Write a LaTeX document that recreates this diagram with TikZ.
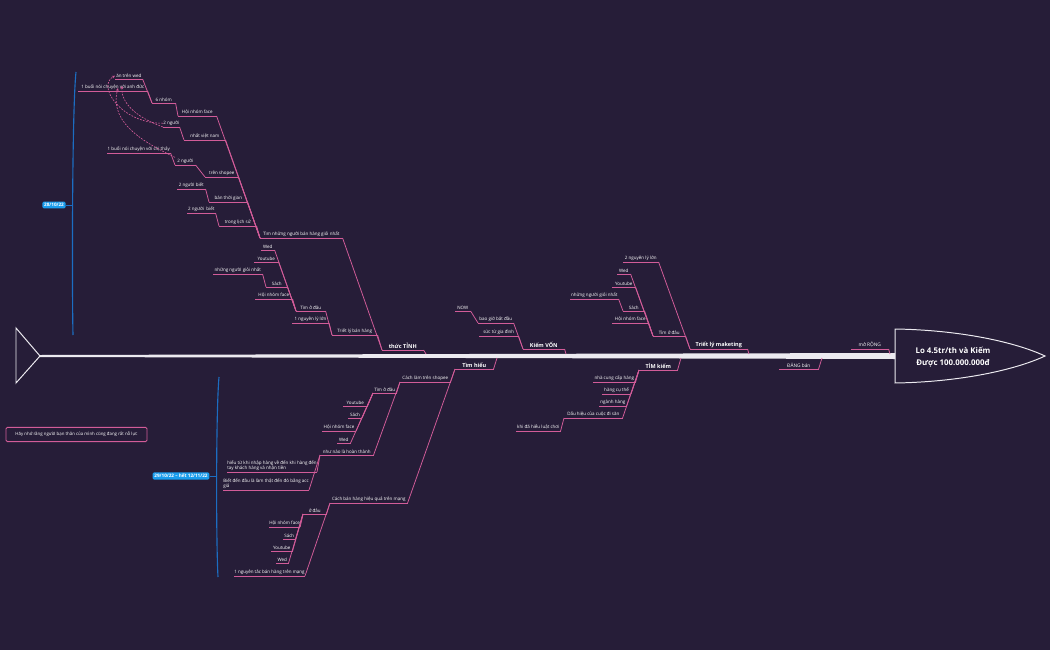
\documentclass[tikz,border=0pt]{standalone}
\usepackage{fontspec}
\setmainfont{Open Sans}
\usetikzlibrary{arrows.meta}
\definecolor{bgc}{HTML}{261D38}
\definecolor{pinkl}{HTML}{D25C99}
\definecolor{bluel}{HTML}{1A9CEC}
\definecolor{bluedk}{HTML}{1C6DC2}
\definecolor{bone}{HTML}{ECEAF0}
\newcommand{\pxl}{0.025cm}
\tikzset{
  uline/.style={draw=pinkl, line width=0.55pt},
  link/.style={draw=pinkl, line width=0.55pt},
  tp/.style={anchor=south west, inner xsep=0pt, inner ysep=0.9pt, text=white,
    font=\fontsize{3.2}{3.8}\selectfont,
    append after command={(\tikzlastnode.south west) edge[uline] (\tikzlastnode.south east)}},
  mtp/.style={tp, font=\fontsize{3.9}{4.5}\selectfont\bfseries},
  rel/.style={draw=pinkl, dash pattern=on 1.3pt off 0.9pt, line width=0.45pt, -{Stealth[length=2.2pt,width=2pt]}},
  datebox/.style={fill=bluel, rounded corners=1pt, text=white, inner xsep=1.3pt, inner ysep=1.2pt, font=\fontsize{3.3}{3.8}\selectfont\bfseries}
}
\begin{document}
\begin{tikzpicture}[x=0.025cm, y=-0.025cm]
\fill[bgc] (0,0) rectangle (1050,650);
\useasboundingbox (0,0) rectangle (1050,650);

\fill[bone] (40,355) -- (895,353) -- (895,359) -- (40,357) -- cycle;
\draw[bone, line width=0.7pt] (16,328) -- (40,356) -- (16,383) -- cycle;
\draw[bone, line width=0.7pt] (895,329) .. controls (960,330) and (1015,342) .. (1045,356)
  .. controls (1015,370) and (960,382) .. (895,383) -- cycle;
\node[text=white, align=center, font=\fontsize{5.6}{8}\selectfont\bfseries] (goal) at (953,357) {Lo 4.5tr/th và Kiếm\\Được 100.000.000đ};

\coordinate (sp1) at (426,354);
\coordinate (sp2) at (566,354);
\coordinate (sp3) at (749,354);
\coordinate (sp4) at (890,354);
\coordinate (sp5) at (497,358);
\coordinate (sp6) at (681,358);
\coordinate (sp7) at (822,358);

\node[tp, minimum width=27*\pxl] (wedA) at (115,79) {ăn trên wed};
\node[tp, minimum width=69*\pxl] (ducA) at (78,91) {1 buổi nói chuyện với anh đức};
\node[tp, minimum width=23*\pxl] (nhom6) at (152,103) {6 nhóm};
\node[tp, minimum width=38*\pxl] (hnfA) at (178,116) {Hội nhóm face};
\node[tp, minimum width=16*\pxl] (ngA) at (163,127) {2 người};
\node[tp, minimum width=41*\pxl] (vnA) at (184,140) {nhất việt nam};
\node[tp, minimum width=63*\pxl] (thayA) at (107,153) {1 buổi nói chuyện với chị thảy};
\node[tp, minimum width=20*\pxl] (ngB) at (175,165) {2 người};
\node[tp, minimum width=33*\pxl] (shA) at (205,177) {trên shopee};
\node[tp, minimum width=28*\pxl] (bietA) at (177,189) {2 người biết};
\node[tp, minimum width=38*\pxl] (btgA) at (209,202) {bán thời gian};
\node[tp, minimum width=28*\pxl] (bietB) at (187,213) {2 người\ \ biết};
\node[tp, minimum width=37*\pxl] (lsA) at (219,226) {trong lịch sử};
\node[tp, minimum width=82*\pxl] (gioi) at (260,238) {Tìm những người bán hàng giỏi nhất};
\node[tp, minimum width=13*\pxl] (wedB) at (261,250) {Wed};
\node[tp, minimum width=24*\pxl] (ytB) at (254,262) {Youtube};
\node[tp, minimum width=49*\pxl] (nngB) at (213,274) {những người giỏi nhất};
\node[tp, minimum width=21*\pxl] (sachB) at (266,287) {Sách};
\node[tp, minimum width=37*\pxl] (hnfB) at (255,299) {Hội nhóm face};
\node[tp, minimum width=29*\pxl] (tdB) at (296,311) {Tìm ở đâu};
\node[tp, minimum width=36.5*\pxl] (nllB) at (292,323) {1 nguyên lý lớn};
\node[tp, minimum width=45*\pxl] (tlbh) at (332,335) {Triết lý bán hàng};
\node[mtp, minimum width=41*\pxl] (thuc) at (382,350) {thức TỈNH};

\node[tp, minimum width=15*\pxl] (now) at (455,311) {NOW};
\node[tp, minimum width=35*\pxl] (bgbd) at (478,323) {bao giờ bắt đầu};
\node[tp, minimum width=39*\pxl] (sgd) at (479,336) {sức từ gia đình};
\node[mtp, minimum width=41*\pxl] (kv) at (523,349) {Kiếm VỐN};

\node[tp, minimum width=35*\pxl] (nll2) at (623,262) {2 nguyên lý lớn};
\node[tp, minimum width=13*\pxl] (wedC) at (617,274) {Wed};
\node[tp, minimum width=23*\pxl] (ytC) at (612,287) {Youtube};
\node[tp, minimum width=48*\pxl] (nngC) at (570,299) {những người giỏi nhất};
\node[tp, minimum width=21*\pxl] (sachC) at (623,311) {Sách};
\node[tp, minimum width=36*\pxl] (hnfC) at (612,323) {Hội nhóm face};
\node[tp, minimum width=32*\pxl] (tdC) at (653,336) {Tìm ở đâu};
\node[mtp, minimum width=57*\pxl] (tlm) at (690,349) {Triết lý maketing};
\node[tp, minimum width=37*\pxl, font=\fontsize{3.4}{4}\selectfont] (mr) at (851,349) {mở RỘNG};

\node[mtp, minimum width=38*\pxl] (th) at (455,369) {Tìm hiểu};
\node[tp, minimum width=50*\pxl] (cs) at (400,382) {Cách làm trên shopee};
\node[tp, minimum width=23*\pxl] (tdD) at (373,393) {Tìm ở đâu};
\node[tp, minimum width=24*\pxl] (ytD) at (343,406) {Youtube};
\node[tp, minimum width=13.5*\pxl] (sachD) at (348,418) {Sách};
\node[tp, minimum width=33.5*\pxl] (hnfD) at (322,431) {Hội nhóm face};
\node[tp, minimum width=13*\pxl] (wedD) at (337,443) {Wed};
\node[tp, minimum width=53*\pxl] (nn) at (320,455) {như nào là hoàn thành};
\node[tp, minimum width=87*\pxl, align=left] (hieu) at (227,472) {hiểu từ khi nhập hàng về đến khi hàng đến\\tay khách hàng và nhận tiền};
\node[tp, minimum width=85*\pxl, align=left] (biet) at (223,490) {Biết đến đâu là làm thật đến đó bằng acc\\giả};
\node[tp, minimum width=77*\pxl] (cb) at (330,503) {Cách bán hàng hiệu quả trên mạng};
\node[tp, minimum width=23*\pxl] (od) at (303,514) {ở đâu};
\node[tp, minimum width=30*\pxl] (hnfE) at (269,527) {Hội nhóm face};
\node[tp, minimum width=12*\pxl] (sachE) at (283,539) {Sách};
\node[tp, minimum width=21*\pxl] (ytE) at (271,551) {Youtube};
\node[tp, minimum width=12*\pxl] (wedE) at (276,563) {Wed};
\node[tp, minimum width=70*\pxl] (nt) at (234,576) {1 nguyên tắc bán hàng trên mạng};

\node[mtp, minimum width=38*\pxl] (tk) at (639,370) {TÌM kiếm};
\node[tp, minimum width=42*\pxl] (ncc) at (593,382) {nhà cung cấp hàng};
\node[tp, minimum width=28.5*\pxl] (hct) at (602,394) {hàng cụ thể};
\node[tp, minimum width=27*\pxl] (nh) at (599,406) {ngành hàng};
\node[tp, minimum width=58*\pxl] (dh) at (564,418) {Dấu hiệu của cuộc đi săn};
\node[tp, minimum width=44*\pxl] (kd) at (516,431) {khi đã hiểu luật chơi};
\node[tp, minimum width=39*\pxl, font=\fontsize{3.4}{4}\selectfont] (db) at (779,369) {ĐĂNG bán};

\draw[link] (wedA.south east) -- (nhom6.south west);
\draw[link] (ducA.south east) -- (nhom6.south west);
\draw[link] (nhom6.south east) -- (hnfA.south west);
\draw[link] (hnfA.south east) -- (gioi.south west);
\draw[link] (ngA.south east) -- (vnA.south west);
\draw[link] (vnA.south east) -- (gioi.south west);
\draw[link] (thayA.south east) -- (ngB.south west);
\draw[link] (ngB.south east) -- (shA.south west);
\draw[link] (shA.south east) -- (gioi.south west);
\draw[link] (bietA.south east) -- (btgA.south west);
\draw[link] (btgA.south east) -- (gioi.south west);
\draw[link] (bietB.south east) -- (lsA.south west);
\draw[link] (lsA.south east) -- (gioi.south west);
\draw[link] (gioi.south east) -- (thuc.south west);
\draw[link] (wedB.south east) -- (tdB.south west);
\draw[link] (ytB.south east) -- (tdB.south west);
\draw[link] (nngB.south east) -- (sachB.south west);
\draw[link] (sachB.south east) -- (tdB.south west);
\draw[link] (hnfB.south east) -- (tdB.south west);
\draw[link] (tdB.south east) -- (tlbh.south west);
\draw[link] (nllB.south east) -- (tlbh.south west);
\draw[link] (tlbh.south east) -- (thuc.south west);
\draw[link] (thuc.south east) -- (sp1);

\draw[link] (now.south east) -- (bgbd.south west);
\draw[link] (bgbd.south east) -- (kv.south west);
\draw[link] (sgd.south east) -- (kv.south west);
\draw[link] (kv.south east) -- (sp2);

\draw[link] (nll2.south east) -- (tlm.south west);
\draw[link] (wedC.south east) -- (tdC.south west);
\draw[link] (ytC.south east) -- (tdC.south west);
\draw[link] (nngC.south east) -- (sachC.south west);
\draw[link] (sachC.south east) -- (tdC.south west);
\draw[link] (hnfC.south east) -- (tdC.south west);
\draw[link] (tdC.south east) -- (tlm.south west);
\draw[link] (tlm.south east) -- (sp3);
\draw[link] (mr.south east) -- (sp4);

\draw[link] (th.south east) -- (sp5);
\draw[link] (th.south west) -- (cs.south east);
\draw[link] (th.south west) -- (cb.south east);
\draw[link] (cs.south west) -- (tdD.south east);
\draw[link] (cs.south west) -- (nn.south east);
\draw[link] (tdD.south west) -- (ytD.south east);
\draw[link] (tdD.south west) -- (sachD.south east);
\draw[link] (tdD.south west) -- (hnfD.south east);
\draw[link] (tdD.south west) -- (wedD.south east);
\draw[link] (nn.south west) -- (hieu.south east);
\draw[link] (nn.south west) -- (biet.south east);
\draw[link] (cb.south west) -- (od.south east);
\draw[link] (cb.south west) -- (nt.south east);
\draw[link] (od.south west) -- (hnfE.south east);
\draw[link] (od.south west) -- (sachE.south east);
\draw[link] (od.south west) -- (ytE.south east);
\draw[link] (od.south west) -- (wedE.south east);

\draw[link] (tk.south east) -- (sp6);
\draw[link] (tk.south west) -- (ncc.south east);
\draw[link] (tk.south west) -- (hct.south east);
\draw[link] (tk.south west) -- (nh.south east);
\draw[link] (tk.south west) -- (dh.south east);
\draw[link] (dh.south west) -- (kd.south east);
\draw[link] (db.south east) -- (sp7);

\draw[rel] (ngA.west) .. controls (122,124) and (96,86) .. (wedA.west);
\draw[rel] (ngA.south west) .. controls (138,118) and (121,104) .. (122,86);
\draw[rel] (ngB.north west) .. controls (150,145) and (108,125) .. (118,88);

\draw[bluedk, line width=0.8pt] (76,72) .. controls (72,110) and (72,290) .. (73,335);
\node[datebox] (d1) at (54,205) {28/10/22};
\draw[bluedk, line width=0.5pt] (d1.east) -- (72.5,205);
\draw[bluedk, line width=0.8pt] (219,377) .. controls (216,410) and (216,540) .. (218,577);
\node[datebox] (d2) at (181,476) {29/10/22 – hết 12/11/22};
\draw[bluedk, line width=0.5pt] (d2.east) -- (216.5,476);

\node[draw=pinkl, line width=0.6pt, rounded corners=1pt, minimum width=141*\pxl, minimum height=13*\pxl,
  text=white, font=\fontsize{3.1}{3.7}\selectfont] (note) at (76.5,434.5) {Hãy nhớ rằng người bạn thân của mình cũng đang rất nỗ lực};
\end{tikzpicture}
\end{document}
